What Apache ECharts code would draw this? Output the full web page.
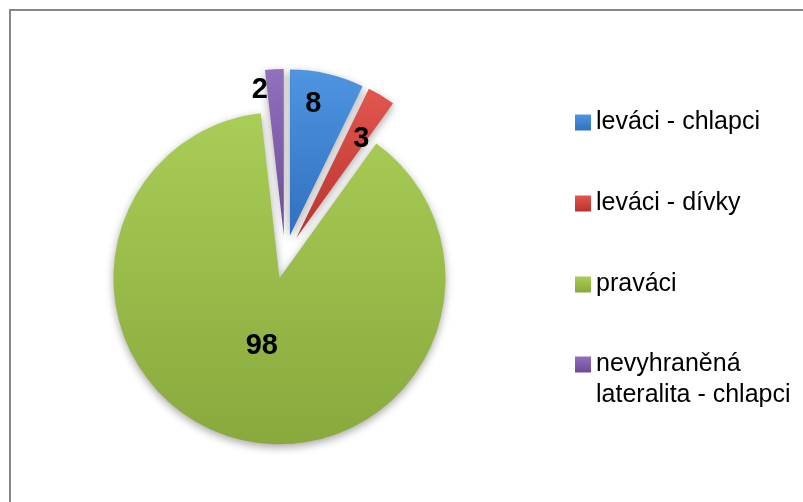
<!DOCTYPE html>
<html>
<head>
<meta charset="utf-8">
<script src="https://cdn.jsdelivr.net/npm/echarts@6/dist/echarts.min.js"></script>
<style>
  html, body { margin: 0; padding: 0; background: #fff; }
  #main { width: 803px; height: 502px; }
</style>
</head>
<body>
<div id="main"></div>
<script>
var names = ['leváci - chlapci', 'leváci - dívky', 'praváci', 'nevyhraněná lateralita - chlapci'];
var values = [8, 3, 98, 2];

var colors = [
  ['#4e95e0', '#3270c0'],
  ['#e2564e', '#b9332e'],
  ['#a9cd56', '#89a93d'],
  ['#9171bd', '#6c4a97']
];
// nudges of the value labels from their default inside spot
var labelShift = [[4, -48], [21, -25], [4, -16], [-19, -59]];

var chartDom = document.getElementById('main');
var myChart = echarts.init(chartDom);

function grad(c) {
  return new echarts.graphic.LinearGradient(0, 0, 0, 1, [
    { offset: 0, color: c[0] },
    { offset: 1, color: c[1] }
  ]);
}

var pieData = names.map(function (n, i) {
  return {
    name: n,
    value: values[i],
    selected: true,
    itemStyle: { color: grad(colors[i]) }
  };
});

var legendText = {
  fontFamily: 'Liberation Sans',
  fontSize: 25,
  color: '#000',
  lineHeight: 31
};

var option = {
  animation: false,
  graphic: [{
    type: 'rect',
    shape: { x: 10, y: 10, width: 820, height: 520 },
    style: { fill: 'none', stroke: '#878787', lineWidth: 2 },
    silent: true
  }],
  legend: [{
    orient: 'vertical',
    left: 570,
    top: 102,
    itemWidth: 16,
    itemHeight: 16,
    itemGap: 50,
    icon: 'rect',
    selectedMode: false,
    data: names.slice(0, 3),
    textStyle: legendText
  }, {
    orient: 'vertical',
    left: 570,
    top: 313,
    itemWidth: 16,
    itemHeight: 16,
    icon: 'rect',
    selectedMode: false,
    data: names.slice(3),
    formatter: function () {
      return '\nnevyhraněná\nlateralita - chlapci';
    },
    textStyle: legendText
  }],
  series: [{
    type: 'pie',
    center: [285, 257],
    radius: 166,
    startAngle: 90,
    clockwise: true,
    selectedMode: 'multiple',
    selectedOffset: 22,
    avoidLabelOverlap: false,
    data: pieData,
    itemStyle: {
      shadowBlur: 8,
      shadowOffsetY: 3,
      shadowColor: 'rgba(0,0,0,0.35)'
    },
    label: {
      show: true,
      position: 'inside',
      formatter: '{c}',
      fontFamily: 'Liberation Sans',
      fontWeight: 'bold',
      fontSize: 29,
      color: '#000'
    },
    labelLine: { show: false },
    labelLayout: function (params) {
      var s = labelShift[params.dataIndex];
      return { dx: s[0], dy: s[1] };
    },
    emphasis: { disabled: true },
    select: { disabled: false }
  }]
};

option && myChart.setOption(option);
</script>
</body>
</html>
